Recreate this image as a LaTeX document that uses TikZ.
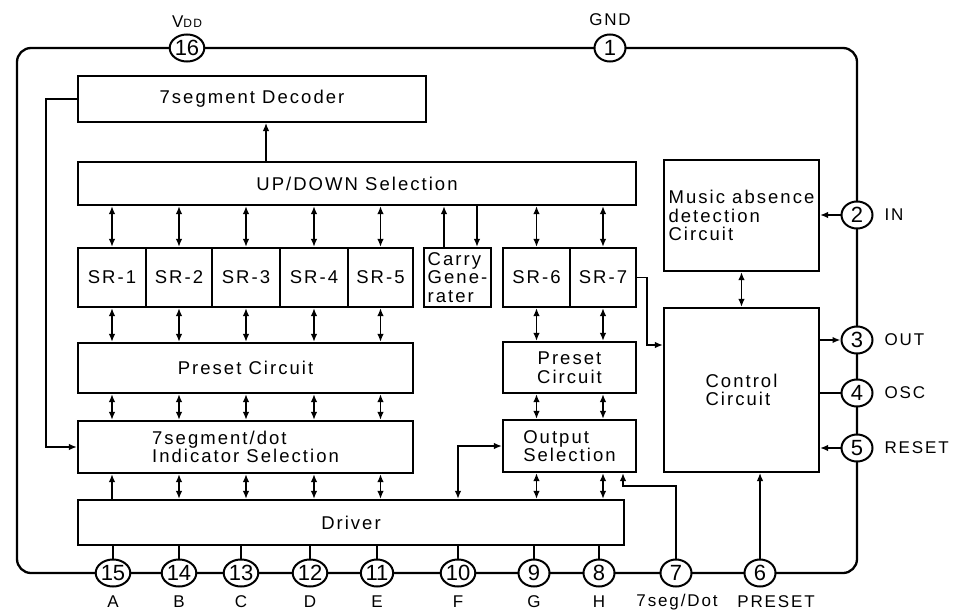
\documentclass[tikz,border=0pt]{standalone}
\usepackage{fontspec}
\setmainfont{Liberation Sans}[LetterSpace=11]
\newfontfamily\pinfont{Liberation Sans}
\usetikzlibrary{arrows.meta,shapes.geometric}
\newcommand\msz{\fontsize{18.5}{18.5}\selectfont}
\begin{document}
\begin{tikzpicture}[x=1pt,y=-1pt,
 every node/.style={font=\msz},
 box/.style={draw, line width=2.1pt, inner sep=0pt, align=center},
 pin/.style={ellipse, draw, fill=white, line width=2pt, minimum width=31pt, minimum height=27pt, inner sep=0pt, font=\pinfont\fontsize{22}{22}\selectfont},
 con/.style={line width=1.8pt},
 arr/.style={con, -{Latex[length=8pt,width=6.5pt]}},
 dbl/.style={con, {Latex[length=8pt,width=6.5pt]}-{Latex[length=8pt,width=6.5pt]}},
 thinarr/.style={line width=1.2pt, -{Latex[length=8pt,width=6.5pt]}},
 lab/.style={font=\fontsize{17}{17}\selectfont}
]
\useasboundingbox (0,0) rectangle (968,610);
% outer border
\draw[line width=2.3pt, rounded corners=14pt] (17,48) rectangle (857,573);

% boxes
\node[box, minimum width=348pt, minimum height=46pt] (dec) at (252,99) {7segment Decoder};
\node[box, minimum width=558pt, minimum height=43pt] (ud) at (357,183.5) {UP/DOWN Selection};
\node[box, minimum width=68pt, minimum height=59pt] (sr1) at (112,277.5) {SR-1};
\node[box, minimum width=66pt, minimum height=59pt] (sr2) at (179,277.5) {SR-2};
\node[box, minimum width=68pt, minimum height=59pt] (sr3) at (246,277.5) {SR-3};
\node[box, minimum width=68pt, minimum height=59pt] (sr4) at (314,277.5) {SR-4};
\node[box, minimum width=65pt, minimum height=59pt] (sr5) at (380.5,277.5) {SR-5};
\node[box, minimum width=67pt, minimum height=59pt, align=left] (carry) at (457.5,277.5) {Carry\\Gene-\\rater};
\node[box, minimum width=67pt, minimum height=59pt] (sr6) at (536.5,277.5) {SR-6};
\node[box, minimum width=66pt, minimum height=59pt] (sr7) at (603,277.5) {SR-7};
\node[box, minimum width=335pt, minimum height=50pt] (prL) at (245.5,368) {Preset Circuit};
\node[box, minimum width=133pt, minimum height=51pt] (prR) at (569.5,367.5) {Preset\\Circuit};
\node[box, minimum width=335pt, minimum height=52pt, align=left] (ind) at (245.5,447) {7segment/dot\\Indicator Selection};
\node[box, minimum width=133pt, minimum height=52pt, align=left] (outs) at (569.5,446) {Output\\Selection};
\node[box, minimum width=546pt, minimum height=45pt] (drv) at (351,522.5) {Driver};
\node[box, minimum width=155pt, minimum height=111pt, align=left] (music) at (741.5,215.5) {Music absence\\detection\\Circuit};
\node[box, minimum width=155pt, minimum height=164pt, align=left] (ctrl) at (741.5,390) {Control\\Circuit};

% pins
\node[pin] (p16) at (187,48) {16};
\node[pin] (p1) at (610,48) {1};
\node[pin] (p2) at (857,215) {2};
\node[pin] (p3) at (857,340) {3};
\node[pin] (p4) at (857,393) {4};
\node[pin] (p5) at (857,448) {5};
\node[pin] (p15) at (113,573) {15};
\node[pin] (p14) at (179,573) {14};
\node[pin] (p13) at (241,573) {13};
\node[pin] (p12) at (310,573) {12};
\node[pin] (p11) at (377,573) {11};
\node[pin] (p10) at (458,573) {10};
\node[pin] (p9) at (534,573) {9};
\node[pin] (p8) at (599,573) {8};
\node[pin] (p7) at (676,573) {7};
\node[pin] (p6) at (760,573) {6};

% pin labels
\node (lvdd) at (187,22) {\fontsize{17}{17}\selectfont V\fontsize{12}{12}\selectfont DD};
\node[lab] (lgnd) at (610,20) {GND};
\node[lab, anchor=west] (lin) at (881,215) {IN};
\node[lab, anchor=west] (lout) at (881,340) {OUT};
\node[lab, anchor=west] (losc) at (881,393) {OSC};
\node[lab, anchor=west] (lres) at (881,448) {RESET};
\node[lab] (lA) at (113,602) {A};
\node[lab] (lB) at (179,602) {B};
\node[lab] (lC) at (241,602) {C};
\node[lab] (lD) at (310,602) {D};
\node[lab] (lE) at (377,602) {E};
\node[lab] (lF) at (458,602) {F};
\node[lab] (lG) at (534,602) {G};
\node[lab] (lH) at (599,602) {H};
\node[lab] (l7) at (677,602) {7seg/Dot};
\node[lab] (l6) at (776,602) {PRESET};

% coordinates
\coordinate (kfb) at (46,0);
\coordinate (k7) at (623,486);
\coordinate (k77) at (647,345);

% connectors
\draw[thinarr] ([xshift=14pt]dec.south |- ud.north) -- ([xshift=14pt]dec.south);
\foreach \s in {sr1,sr2,sr3,sr4,sr5,sr6,sr7} {
  \draw[dbl] (ud.south -| \s) -- (\s.north);
}
\draw[arr] ([xshift=-13.5pt]carry.north) -- ([xshift=-13.5pt]carry.north |- ud.south);
\draw[arr] ([xshift=19.5pt]carry.north |- ud.south) -- ([xshift=19.5pt]carry.north);
\foreach \s in {sr1,sr2,sr3,sr4,sr5} {
  \draw[dbl] (\s.south) -- (prL.north -| \s);
  \draw[dbl] (prL.south -| \s) -- (ind.north -| \s);
}
\foreach \s in {sr6,sr7} {
  \draw[dbl] (\s.south) -- (prR.north -| \s);
  \draw[dbl] (prR.south -| \s) -- (outs.north -| \s);
  \draw[dbl] (outs.south -| \s) -- (drv.north -| \s);
}
\draw[arr] (drv.north -| sr1) -- (ind.south -| sr1);
\foreach \s in {sr2,sr3,sr4,sr5} {
  \draw[dbl] (drv.north -| \s) -- (ind.south -| \s);
}
\foreach \p in {p15,p14,p13,p12,p11,p10,p9,p8} {
  \draw[con] (drv.south -| \p) -- (\p.north);
}
\draw[dbl] (outs.west) -| (drv.north -| p10);
\draw[arr] (p7.north) |- (k7) -- (k7 |- outs.south);
\draw[thinarr] (p6.north) -- (ctrl.south -| p6);
\draw[arr] (p2.west) -- (music.east |- p2);
\draw[arr] (ctrl.east |- p3) -- (p3.west);
\draw[con] (ctrl.east |- p4) -- (p4.west);
\draw[arr] (p5.west) -- (ctrl.east |- p5);
\draw[dbl] (music.south) -- (ctrl.north);
\draw[arr] (sr7.east) -| (k77) -- (ctrl.west |- k77);
\draw[arr] (dec.west) -- (dec.west -| kfb) |- (ind.west);
\end{tikzpicture}
\end{document}
